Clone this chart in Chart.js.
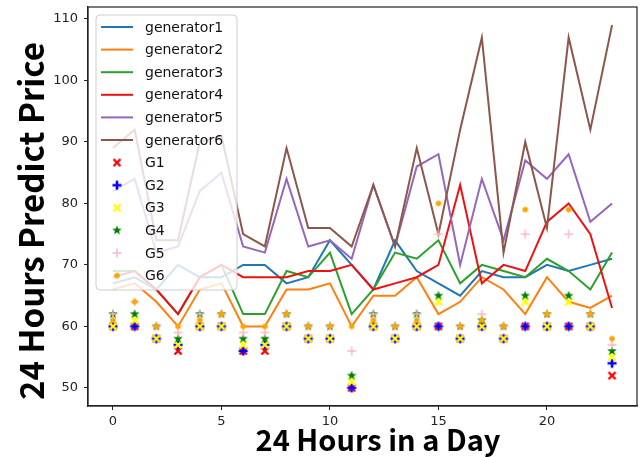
<!DOCTYPE html>
<html>
<head>
<meta charset="utf-8">
<script src="https://cdn.jsdelivr.net/npm/chart.js@4"></script>
<style>
  body { margin: 0; background: #fff; }
  #wrap { width: 644px; height: 457px; }
</style>
</head>
<body>
<div id="wrap"><canvas id="priceChart" width="644" height="457"></canvas></div>
<script>
// hours of the day
const hours = [0, 1, 2, 3, 4, 5, 6, 7, 8, 9, 10, 11, 12, 13, 14, 15, 16, 17, 18, 19, 20, 21, 22, 23];

// predicted price lines
const generator1 = [67, 68, 66, 70, 68, 68, 70, 70, 67, 68, 74, 70, 66, 74, 69, 67, 65, 69, 68, 68, 70, 69, 70, 71];
const generator2 = [66, 67, 64, 60, 66, 67, 60, 60, 66, 66, 67, 60, 65, 65, 68, 62, 64, 68, 66, 62, 68, 64, 63, 65];
const generator3 = [69, 69, 66, 62, 68, 70, 62, 62, 69, 68, 72, 62, 66, 72, 71, 74, 67, 70, 69, 68, 71, 69, 66, 72];
const generator4 = [68, 69, 66, 62, 68, 70, 68, 68, 68, 69, 69, 70, 66, 67, 68, 70, 83, 67, 70, 69, 77, 80, 75, 63];
const generator5 = [82, 84, 72, 73, 82, 85, 73, 72, 84, 73, 74, 71, 83, 73, 86, 88, 70, 84, 74, 87, 84, 88, 77, 80];
const generator6 = [89, 92, 74, 74, 90, 91, 75, 73, 89, 76, 76, 73, 83, 73, 89, 75, 92, 107, 72, 90, 76, 107, 92, 109];

// scatter points
const G1 = [60, 60, 58, 56, 60, 60, 56, 56, 60, 58, 58, 50, 60, 58, 60, 60, 58, 60, 58, 60, 60, 60, 60, 52];
const G2 = [60, 60, 58, 57, 60, 60, 56, 57, 60, 58, 58, 50, 60, 58, 60, 60, 58, 60, 58, 60, 60, 60, 60, 54];
const G3 = [60, 61, 58, 57, 60, 60, 57, 57, 60, 58, 58, 51, 60, 58, 60, 64, 58, 60, 58, 64, 60, 64, 60, 55];
const G4 = [62, 62, 60, 58, 62, 62, 58, 58, 62, 60, 60, 52, 62, 60, 62, 65, 60, 61, 60, 65, 62, 65, 62, 56];
const G5 = [62, 64, 60, 59, 62, 62, 59, 59, 62, 60, 60, 56, 62, 60, 62, 75, 60, 62, 60, 75, 62, 75, 62, 57];
const G6 = [61, 64, 60, 60, 61, 62, 60, 60, 62, 60, 60, 60, 61, 60, 61, 80, 60, 61, 60, 79, 62, 79, 62, 58];

const xTicks = [0, 5, 10, 15, 20];
const yTicks = [50, 60, 70, 80, 90, 100, 110];

const lineNames = ['generator1', 'generator2', 'generator3', 'generator4', 'generator5', 'generator6'];
const lineColors = ['#1f77b4', '#ff7f0e', '#2ca02c', '#ee1111', '#9467bd', '#8c564b'];
const lineSeries = [generator1, generator2, generator3, generator4, generator5, generator6];

const pointNames = ['G1', 'G2', 'G3', 'G4', 'G5', 'G6'];
const pointSeries = [G1, G2, G3, G4, G5, G6];

// marker images (matplotlib style markers)
function makeMarker(draw) {
  const c = document.createElement('canvas');
  c.width = 12; c.height = 12;
  const g = c.getContext('2d');
  g.translate(6, 6);
  draw(g);
  return c;
}
function xMark(color) {
  return makeMarker(g => {
    g.strokeStyle = color; g.lineWidth = 2.4;
    g.beginPath();
    g.moveTo(-3.5, -3.5); g.lineTo(3.5, 3.5);
    g.moveTo(3.5, -3.5); g.lineTo(-3.5, 3.5);
    g.stroke();
  });
}
function plusMark(color, w) {
  return makeMarker(g => {
    g.strokeStyle = color; g.lineWidth = w;
    g.beginPath();
    g.moveTo(-4.5, 0); g.lineTo(4.5, 0);
    g.moveTo(0, -4.5); g.lineTo(0, 4.5);
    g.stroke();
  });
}
function starMark(color) {
  return makeMarker(g => {
    g.fillStyle = color;
    g.beginPath();
    for (let i = 0; i < 10; i++) {
      const r = i % 2 === 0 ? 5 : 2.1;
      const a = -Math.PI / 2 + i * Math.PI / 5;
      g.lineTo(r * Math.cos(a), r * Math.sin(a));
    }
    g.closePath();
    g.fill();
  });
}
function dotMark(color) {
  return makeMarker(g => {
    g.fillStyle = color;
    g.beginPath();
    g.arc(0, 0, 2.8, 0, Math.PI * 2);
    g.fill();
  });
}
const pointMarkers = [
  xMark('#ff0000'),
  plusMark('#0000ff', 2.6),
  xMark('#ffff00'),
  starMark('#008000'),
  plusMark('#ffb6c1', 1.4),
  dotMark('#ffa500')
];

const toXY = arr => arr.map((v, i) => ({ x: hours[i], y: v }));

const datasets = [];
lineSeries.forEach((s, i) => {
  datasets.push({
    type: 'line',
    label: lineNames[i],
    data: toXY(s),
    borderColor: lineColors[i],
    borderWidth: 2,
    pointRadius: 0,
    tension: 0,
    fill: false,
    order: 20 - i
  });
});
pointSeries.forEach((s, i) => {
  datasets.push({
    type: 'scatter',
    label: pointNames[i],
    data: toXY(s),
    pointStyle: pointMarkers[i],
    pointRadius: 5,
    order: 10 - i
  });
});

// legend box inside the plot + frame + axis titles
const decorPlugin = {
  id: 'decor',
  afterDatasetsDraw(chart) {
    const { ctx, chartArea } = chart;
    ctx.save();
    // frame
    ctx.strokeStyle = '#222';
    ctx.lineWidth = 1.2;
    ctx.strokeRect(chartArea.left, chartArea.top, chartArea.right - chartArea.left, chartArea.bottom - chartArea.top);

    // legend
    const lx = chartArea.left + 8, ly = chartArea.top + 8;
    const lw = 141, lh = 275;
    ctx.fillStyle = 'rgba(255,255,255,0.8)';
    ctx.strokeStyle = 'rgba(200,200,200,0.9)';
    ctx.lineWidth = 1;
    ctx.beginPath();
    ctx.roundRect(lx, ly, lw, lh, 4);
    ctx.fill();
    ctx.stroke();

    ctx.font = '14px "DejaVu Sans"';
    ctx.textBaseline = 'middle';
    ctx.textAlign = 'left';
    const rowH = 22.6;
    const labels = lineNames.concat(pointNames);
    labels.forEach((lab, i) => {
      const y = ly + 12 + i * rowH;
      if (i < 6) {
        ctx.strokeStyle = lineColors[i];
        ctx.lineWidth = 2;
        ctx.beginPath();
        ctx.moveTo(lx + 5, y);
        ctx.lineTo(lx + 37, y);
        ctx.stroke();
      } else {
        const m = pointMarkers[i - 6];
        ctx.drawImage(m, lx + 21 - 6, y - 6);
      }
      ctx.fillStyle = '#111';
      ctx.fillText(lab, lx + 49, y + 1);
    });

    // axis titles
    ctx.fillStyle = '#000';
    ctx.textAlign = 'center';
    ctx.textBaseline = 'middle';
    ctx.font = 'bold 29px "Noto Sans CJK SC"';
    ctx.fillText('24 Hours in a Day', 378, 440);
    ctx.font = 'bold 33px "Noto Sans CJK SC"';
    ctx.translate(31, 221);
    ctx.rotate(-Math.PI / 2);
    ctx.fillText('24 Hours Predict Price', 0, 0);
    ctx.restore();
  }
};

new Chart(document.getElementById('priceChart'), {
  data: { datasets },
  options: {
    responsive: false,
    animation: false,
    devicePixelRatio: 1,
    layout: { padding: { left: 0, right: 7, top: 7, bottom: 0 } },
    plugins: {
      legend: { display: false },
      tooltip: { enabled: false }
    },
    scales: {
      x: {
        type: 'linear',
        min: -1.15,
        max: 24.15,
        afterFit: s => { s.height = 51; s.paddingLeft = 0; s.paddingRight = 0; },
        afterBuildTicks: s => { s.ticks = xTicks.map(v => ({ value: v })); },
        grid: { drawOnChartArea: false, drawTicks: true, tickLength: 4, tickColor: '#222' },
        border: { display: true, color: '#222', width: 1.2 },
        ticks: { color: '#222', font: { family: 'DejaVu Sans', size: 13 }, padding: 4, maxRotation: 0 }
      },
      y: {
        type: 'linear',
        min: 47.05,
        max: 111.95,
        afterFit: s => { s.width = 88; s.paddingTop = 0; s.paddingBottom = 0; },
        afterBuildTicks: s => { s.ticks = yTicks.map(v => ({ value: v })); },
        grid: { drawOnChartArea: false, drawTicks: true, tickLength: 4, tickColor: '#222' },
        border: { display: true, color: '#222', width: 1.2 },
        ticks: { color: '#222', font: { family: 'DejaVu Sans', size: 13 }, padding: 6 }
      }
    }
  },
  plugins: [decorPlugin]
});
</script>
</body>
</html>
